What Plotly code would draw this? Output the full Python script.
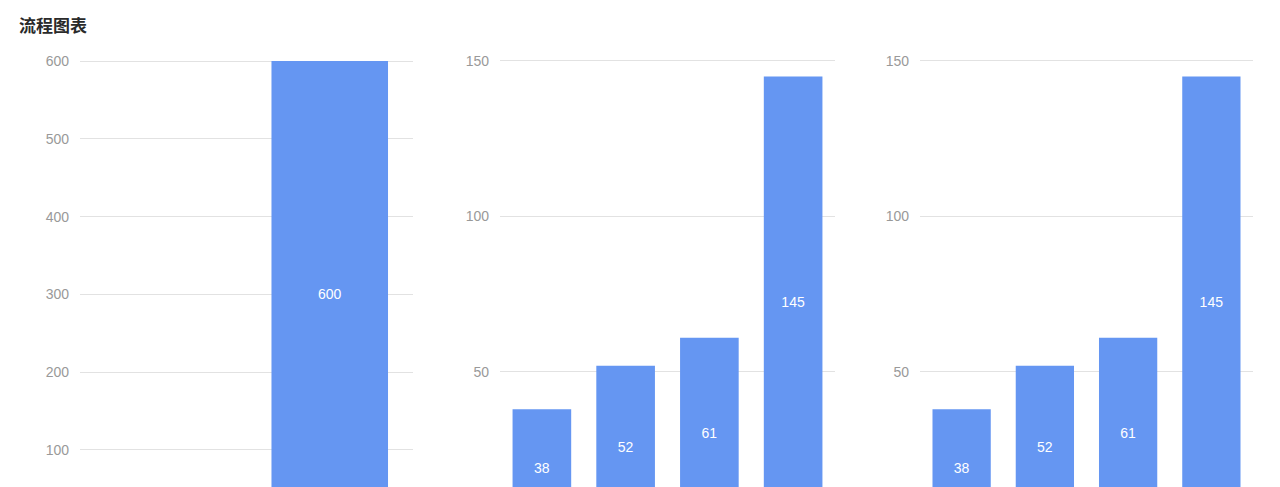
import plotly.graph_objects as go

# panel 1: two steps, only the second has a value
cats_1 = ["步骤一", "步骤二"]
vals_1 = [None, 600]

# panels 2 and 3: four steps each
cats_2 = ["步骤一", "步骤二", "步骤三", "步骤四"]
vals_2 = [38, 52, 61, 145]
cats_3 = ["步骤一", "步骤二", "步骤三", "步骤四"]
vals_3 = [38, 52, 61, 145]

bar_color = "#6596F2"
W, H = 1280, 487
num_font = "Liberation Sans, Arial"

fig = go.Figure()

# plot area starts 2px above the top tick so that gridline isn't clipped
panels = [
    (cats_1, vals_1, "x", "y", (80, 413), [52.4, 602.6], [100, 200, 300, 400, 500, 600]),
    (cats_2, vals_2, "x2", "y2", (500, 835), [13.0, 150.64], [50, 100, 150]),
    (cats_3, vals_3, "x3", "y3", (920, 1253), [13.0, 150.64], [50, 100, 150]),
]

for i, (cats, vals, xa, ya, (x0, x1), yr, ticks) in enumerate(panels):
    fig.add_trace(go.Bar(
        x=cats, y=vals, xaxis=xa, yaxis=ya,
        marker=dict(color=bar_color, line=dict(width=0)),
        text=[("" if v is None else str(v)) for v in vals],
        textposition="inside", insidetextanchor="middle",
        textfont=dict(color="white", size=14, family=num_font),
        cliponaxis=True, showlegend=False, hoverinfo="x+y",
    ))
    n = "" if i == 0 else str(i + 1)
    fig.layout["xaxis" + n] = dict(
        domain=[x0 / W, x1 / W], anchor="y" + n, showticklabels=False,
        showgrid=False, zeroline=False, showline=False, ticks="",
    )
    fig.layout["yaxis" + n] = dict(
        domain=[0, 1], anchor="x" + n, range=yr,
        tickvals=ticks, showgrid=True, gridcolor="#e2e2e2", gridwidth=1,
        zeroline=False, showline=False, ticks="", ticklabelstandoff=10,
        tickfont=dict(color="#999999", size=14, family=num_font),
    )

fig.update_layout(
    width=W, height=H,
    margin=dict(l=0, r=0, t=59, b=0, autoexpand=False),
    bargap=0.3, showlegend=False,
    plot_bgcolor="white", paper_bgcolor="white",
    title=dict(text="<b>流程图表</b>", x=19 / W, xanchor="left", y=1 - 26 / H, yanchor="middle",
               font=dict(size=17, color="#2a2a2a", family="Noto Sans CJK SC")),
)

# page body has a default 8px margin, drop it so the figure sits at 0,0
fig.write_html("out.html", config={"displayModeBar": False},
               post_script="document.body.style.margin='0';document.body.style.overflow='hidden';")
